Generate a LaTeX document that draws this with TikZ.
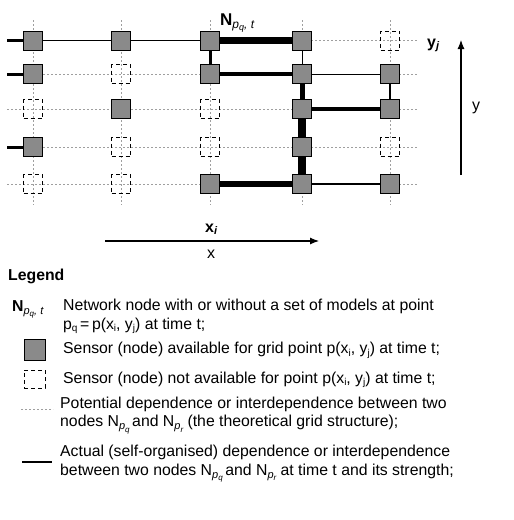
\documentclass[tikz,border=0pt]{standalone}
\usepackage{fontspec}
\setmainfont{Liberation Sans}
\usetikzlibrary{arrows.meta}
\definecolor{sgrey}{RGB}{138,138,138}
\newcommand{\lsub}[1]{\raisebox{-2.5pt}{\fontsize{10}{10}\selectfont #1}}
\newcommand{\Nsub}[1]{N\raisebox{-3pt}{\fontsize{11}{11}\selectfont\itshape p\raisebox{-2.5pt}{\fontsize{8}{8}\selectfont #1}}}
\begin{document}
\begin{tikzpicture}[x=1pt,y=-1pt,
  grid/.style={gray!75, line width=0.8pt, dash pattern=on 2pt off 2pt},
  sensor/.style={draw=black, fill=sgrey, minimum size=19pt, inner sep=0pt, line width=1pt},
  nosensor/.style={draw=black, dash pattern=on 4pt off 3pt, minimum size=19pt, inner sep=0pt, line width=0.9pt},
  link/.style={line width=#1},
  txt/.style={font=\fontsize{15.8}{18.4}\selectfont, inner sep=0pt, align=left},
  lab/.style={font=\fontsize{16}{18}\selectfont, inner sep=0pt}
]
\useasboundingbox (0,0) rectangle (514,520);
% grid
\foreach \xx in {33,121,210,302,390} \draw[grid] (\xx,20) -- (\xx,205);
\foreach \yy in {40.5,74,109,147,184} \draw[grid] (7,\yy) -- (417,\yy);
% nodes: n<col><row>
\node[sensor]   (n11) at (33,40.5) {};
\node[sensor]   (n21) at (121,40.5) {};
\node[sensor]   (n31) at (210,40.5) {};
\node[sensor]   (n41) at (302,40.5) {};
\node[nosensor] (n51) at (390,40.5) {};
\node[sensor]   (n12) at (33,74) {};
\node[nosensor] (n22) at (121,74) {};
\node[sensor]   (n32) at (210,74) {};
\node[sensor]   (n42) at (302,74) {};
\node[sensor]   (n52) at (390,74) {};
\node[nosensor] (n13) at (33,109) {};
\node[sensor]   (n23) at (121,109) {};
\node[nosensor] (n33) at (210,109) {};
\node[sensor]   (n43) at (302,109) {};
\node[sensor]   (n53) at (390,109) {};
\node[sensor]   (n14) at (33,147) {};
\node[nosensor] (n24) at (121,147) {};
\node[nosensor] (n34) at (210,147) {};
\node[sensor]   (n44) at (302,147) {};
\node[nosensor] (n54) at (390,147) {};
\node[nosensor] (n15) at (33,184) {};
\node[nosensor] (n25) at (121,184) {};
\node[sensor]   (n35) at (210,184) {};
\node[sensor]   (n45) at (302,184) {};
\node[sensor]   (n55) at (390,184) {};
% free ends
\coordinate (s1) at (7,40.5);
\coordinate (s2) at (7,74);
\coordinate (s4) at (7,147);
% links
\draw[link=2.5pt] (s1) -- (n11);
\draw[link=1.3pt] (n11) -- (n21);
\draw[link=1pt] (n21) -- (n31);
\draw[link=6.5pt] (n31) -- (n41);
\draw[link=3pt] (n31) -- (n32);
\draw[link=1pt] (n41) -- (n42);
\draw[link=3pt] (s2) -- (n12);
\draw[link=3.5pt] (n32) -- (n42);
\draw[link=1pt] (n42) -- (n52);
\draw[link=5pt] (n42) -- (n43);
\draw[link=2.7pt] (n52) -- (n53);
\draw[link=4.3pt] (n43) -- (n53);
\draw[link=7.5pt] (n43) -- (n44);
\draw[link=7.5pt] (n44) -- (n45);
\draw[link=3pt] (s4) -- (n14);
\draw[link=6.3pt] (n35) -- (n45);
\draw[link=2.7pt] (n45) -- (n55);
% labels
\node[lab, anchor=base west, font=\fontsize{17}{18}\selectfont] (Nlab) at (220,25) {\textbf{N}\raisebox{-3pt}{\fontsize{12}{12}\selectfont\itshape p\raisebox{-2.5pt}{\fontsize{9}{9}\selectfont q}, t}};
\node[lab, anchor=base west] (yj) at (427,47) {\textbf{y}\raisebox{-2.5pt}{\fontsize{11}{11}\selectfont\bfseries\itshape j}};
\node[lab, anchor=base west] (xi) at (205,232) {\textbf{x}\raisebox{-2.5pt}{\fontsize{11}{11}\selectfont\bfseries\itshape i}};
\coordinate (ya) at (461,175);
\coordinate (yb) at (461,40);
\draw[line width=1.1pt, -{Latex[length=9pt,width=7pt]}] (ya) -- (yb);
\node[lab] (ylab) at (476,108) {y};
\coordinate (xa) at (105,241);
\coordinate (xb) at (319,241);
\draw[line width=1.1pt, -{Latex[length=9pt,width=7pt]}] (xa) -- (xb);
\node[lab] (xlab) at (211,254) {x};
% legend
\node[txt, anchor=base west, font=\fontsize{15.8}{18}\selectfont\bfseries] (leg) at (8,280.5) {Legend};
\node[txt, anchor=base west] (l1sym) at (12,311) {\textbf{N}\raisebox{-3pt}{\fontsize{11}{11}\selectfont\itshape p\raisebox{-2.5pt}{\fontsize{8}{8}\selectfont q}, t}};
\node[txt, anchor=base west] (l1) at (63,329) {Network node with or without a set of models at point\\p\lsub{q}\,=\,p(x\lsub{i}, y\lsub{j}) at time t;};
\node[sensor, minimum size=21pt] (l2sym) at (34.5,349.5) {};
\node[txt, anchor=base west] (l2) at (63,353.5) {Sensor (node) available for grid point p(x\lsub{i}, y\lsub{j}) at time t;};
\node[nosensor, minimum width=21pt, minimum height=18pt] (l3sym) at (34.5,379) {};
\node[txt, anchor=base west] (l3) at (63,383) {Sensor (node) not available for point p(x\lsub{i}, y\lsub{j}) at time t;};
\coordinate (l4a) at (21,409);
\coordinate (l4b) at (53,409);
\draw[grid] (l4a) -- (l4b);
\node[txt, anchor=base west] (l4) at (60,426.5) {Potential dependence or interdependence between two\\nodes \Nsub{q}\,and \Nsub{r} (the theoretical grid structure);};
\coordinate (l5a) at (22,462);
\coordinate (l5b) at (52,462);
\draw[line width=2pt] (l5a) -- (l5b);
\node[txt, anchor=base west] (l5) at (60,475) {Actual (self-organised) dependence or interdependence\\between two nodes \Nsub{q}\,and \Nsub{r} at time t and its strength;};
\end{tikzpicture}
\end{document}
